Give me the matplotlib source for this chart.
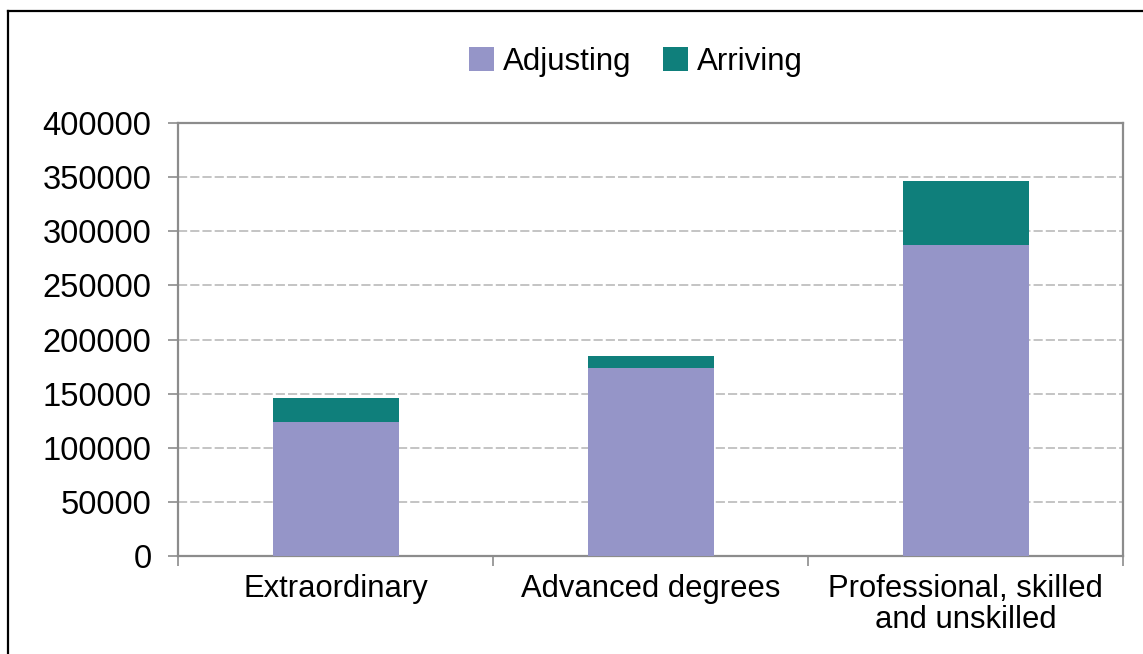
import matplotlib.pyplot as plt
from matplotlib.lines import Line2D
import numpy as np

plt.rcParams['font.family'] = ['Liberation Sans', 'DejaVu Sans']

# Daten
categories = ["Extraordinary", "Advanced degrees", "Professional, skilled\nand unskilled"]
adjusting = [124000, 174000, 287000]
arriving = [22000, 11000, 59000]
y_ticks = [0, 50000, 100000, 150000, 200000, 250000, 300000, 350000, 400000]

col_adjusting = "#9595c8"
col_arriving = "#0f7f7b"
grey = "#8c8c8c"

fig = plt.figure(figsize=(11.43, 6.54), dpi=100)
ax = fig.add_axes([178 / 1143, 98 / 654, (1123 - 178) / 1143, (556 - 123) / 654])

x = np.arange(len(categories))
ax.bar(x, adjusting, width=0.40, color=col_adjusting, label="Adjusting", zorder=3)
ax.bar(x, arriving, width=0.40, bottom=adjusting, color=col_arriving, label="Arriving", zorder=3)

ax.set_xlim(-0.5, len(categories) - 0.5)
ax.set_ylim(0, 400000)
ax.set_yticks(y_ticks)
ax.set_yticklabels([str(v) for v in y_ticks], fontsize=23.5)
ax.set_xticks(x)
ax.set_xticklabels(categories, fontsize=22.3, linespacing=1.05)
ax.set_xticks(np.arange(-0.5, len(categories)), minor=True)
ax.tick_params(axis="x", which="major", length=0, pad=13)
ax.tick_params(axis="x", which="minor", length=7, color=grey, width=1.2)
ax.tick_params(axis="y", length=7, color=grey, width=1.2, pad=12)

ax.yaxis.grid(True, linestyle=(0, (6, 2)), color="#b4b4b4", linewidth=1.1, zorder=0)
for s in ax.spines.values():
    s.set_color(grey)
    s.set_linewidth(1.6)

ax.legend(loc="center", bbox_to_anchor=(636 / 1143, 1 - 62 / 654), bbox_transform=fig.transFigure,
          ncol=2, frameon=False, fontsize=22.5, handlelength=0.8, handleheight=0.8,
          handletextpad=0.3, columnspacing=1.0)

# Rahmen links und oben
fig.add_artist(Line2D([8 / 1143, 8 / 1143], [0, 1 - 11 / 654], color="black", linewidth=1.6,
                      transform=fig.transFigure))
fig.add_artist(Line2D([8 / 1143, 1], [1 - 11 / 654, 1 - 11 / 654], color="black", linewidth=1.6,
                      transform=fig.transFigure))

fig.savefig("out.png", dpi=100)
